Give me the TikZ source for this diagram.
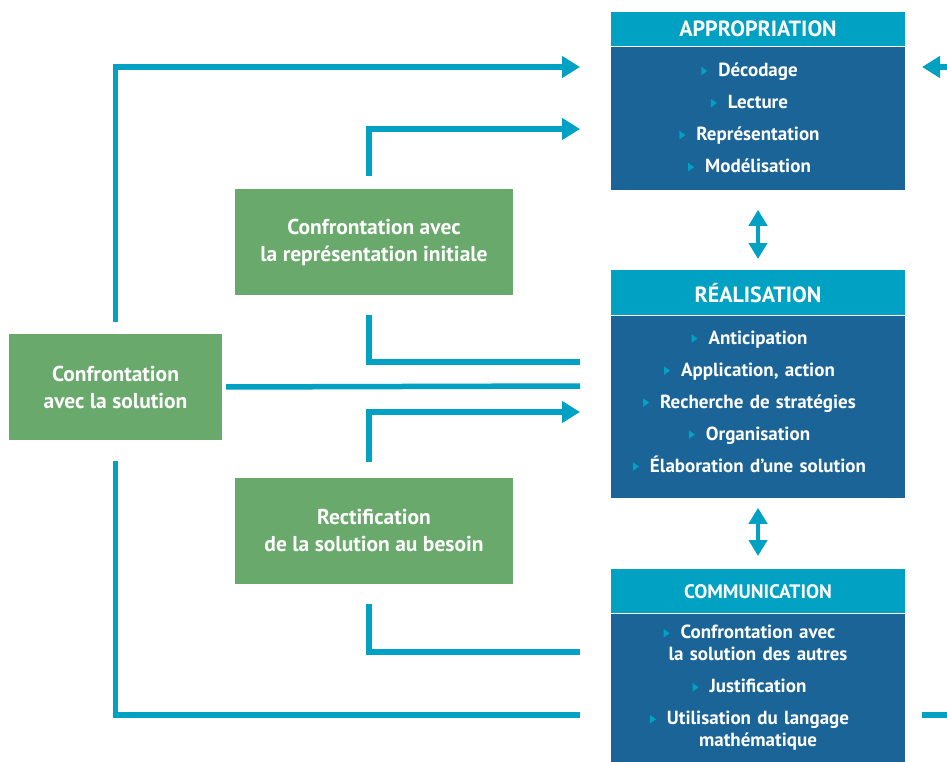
\documentclass[tikz,border=0pt]{standalone}
\usepackage{fontspec}
\setmainfont{PT Sans}
\usetikzlibrary{arrows.meta}
\usetikzlibrary{positioning}

\definecolor{bleuclair}{HTML}{00A1C2}
\definecolor{bleufonce}{HTML}{1A6497}
\definecolor{vert}{HTML}{69A96B}

\newcommand{\puce}{\leavevmode\llap{\tikz[baseline=0pt]\fill[bleuclair] (0pt,1.5pt) -- (0pt,10pt) -- (6pt,5.75pt) -- cycle;\hspace{11pt}}}

\tikzset{
	lien/.style={line width=5.5pt, draw=bleuclair},
	fleche/.style={lien, -{Triangle[length=18pt,width=21pt]}},
	double/.style={line width=4pt, draw=bleuclair, {Triangle[length=16pt,width=18pt]}-{Triangle[length=16pt,width=18pt]}},
	etape/.style={fill=vert, text=white, inner sep=0pt, align=center, font=\bfseries\fontsize{21.5}{27}\selectfont},
	titre/.style={fill=bleuclair, text=white, inner sep=0pt, text width=294pt, align=center, font=\bfseries\fontsize{22}{24}\selectfont},
	corps/.style={fill=bleufonce, text=white, inner sep=0pt, text width=294pt, align=center, font=\bfseries\fontsize{19}{32}\selectfont}
}

\begin{document}
\begin{tikzpicture}[x=1pt, y=-1pt]
		\useasboundingbox (0,0) rectangle (947,762);
		% boites de droite
		\node[titre, minimum height=34pt, anchor=north] (appTitre) at (758,12) {APPROPRIATION};
		\node[corps, minimum height=143pt, below=0pt of appTitre] (appCorps) {\puce D\'ecodage\\ \puce Lecture\\ \puce Repr\'esentation\\ \puce Mod\'elisation};
		\node[titre, minimum height=45pt, anchor=north] (reaTitre) at (758,270) {R\'EALISATION};
		\node[corps, minimum height=182pt, below=0pt of reaTitre] (reaCorps) {\puce Anticipation\\ \puce Application, action\\ \puce Recherche de strat\'egies\\ \puce Organisation\\ \puce \'Elaboration d’une solution\\[-22pt]~};
		\node[titre, minimum height=44pt, anchor=north, font=\bfseries\fontsize{19.5}{22}\selectfont] (comTitre) at (758,569) {COMMUNICATION};
		\node[corps, minimum height=149pt, below=0pt of comTitre] (comCorps) {\puce Confrontation avec\\[-10pt] la solution des autres\\ \puce Justification\\ \puce Utilisation du langage\\[-10pt] math\'ematique};
		% boites vertes
		\node[etape, minimum width=213pt, minimum height=106pt] (sol) at (115.5,387) {Confrontation\\ avec la solution};
		\node[etape, minimum width=278pt, minimum height=106pt] (rep) at (374,242) {Confrontation avec\\ la repr\'esentation initiale};
		\node[etape, minimum width=278pt, minimum height=106pt] (rect) at (374,531) {Rectification\\ de la solution au besoin};
		% extremites libres
		\coordinate (a1) at (580,67);
		\coordinate (a2) at (580,129);
		\coordinate (r1) at (580,362);
		\coordinate (r2) at (580,386);
		\coordinate (r3) at (580,412);
		\coordinate (c1) at (580,652);
		\coordinate (c2) at (580,715);
		\coordinate (bordA) at (947,67);
		\coordinate (bordB) at (947,715);
		\coordinate (a3) at (922,67);
		\coordinate (c3) at (922,715);
		% liaisons
		\draw[fleche, shorten <=12pt] (sol.north) |- (a1);
		\draw[fleche, shorten <=13pt] ([xshift=-5pt]rep.north) |- (a2);
		\draw[lien, shorten <=20pt] ([xshift=-5pt]rep.south) |- (r1);
		\draw[lien, shorten <=4pt] (sol.east) -- (r2);
		\draw[fleche, shorten <=16pt] ([xshift=-5pt]rect.north) |- (r3);
		\draw[lien, shorten <=20pt] ([xshift=-5pt]rect.south) |- (c1);
		\draw[lien, shorten <=21pt] (sol.south) |- (c2);
		\draw[fleche] (bordA) -- (a3);
		\draw[lien] (bordB) -- (c3);
		\draw[double, shorten <=20pt, shorten >=11pt] (appCorps.south) -- (reaTitre.north);
		\draw[double, shorten <=10pt, shorten >=13pt] (reaCorps.south) -- (comTitre.north);
\end{tikzpicture}
\end{document}
